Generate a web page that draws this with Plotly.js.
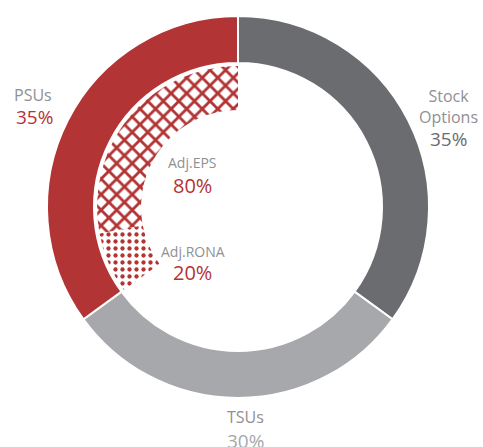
<!DOCTYPE html>
<html>
<head>
<meta charset="utf-8">
<script src="https://cdn.plot.ly/plotly-3.0.1.min.js"></script>
<style>html,body{margin:0;padding:0;background:#fff;}#chart{width:483px;height:447px;}</style>
</head>
<body>
<div id="chart"></div>
<script>
// ---- data ----
const outerLabels = ['Stock Options', 'TSUs', 'PSUs'];
const outerValues = [35, 30, 35];
const psuLabels = ['Adj.EPS', 'Adj.RONA'];
const psuValues = [80, 20];

// ---- style ----
const RED = '#b23434';
const DARK = '#6b6c70';
const LIGHT = '#a7a8ab';
const TEXTGRAY = '#8f9093';
const W = 483, H = 447;
const CX = 238, CY = 207;
const R_OUT = 191, R_IN = 141;

function dom(r) {
  return {
    x: [(CX - r) / W, (CX + r) / W],
    y: [(H - CY - r) / H, (H - CY + r) / H]
  };
}

// inner ring spans only the PSU sector: clockwise from 12 o'clock -> rest, RONA, EPS
const psuShare = outerValues[2];
const innerLabels = ['rest'].concat(psuLabels.slice().reverse());
const innerValues = [100 - psuShare].concat(psuValues.slice().reverse().map(v => v * psuShare / 100));

const outer = {
  type: 'pie',
  labels: outerLabels,
  values: outerValues,
  sort: false,
  direction: 'clockwise',
  rotation: 0,
  hole: 144 / 191,
  domain: dom(R_OUT),
  marker: {colors: [DARK, LIGHT, RED], line: {color: '#ffffff', width: 2}},
  textinfo: 'none',
  hoverinfo: 'none',
  showlegend: false
};

const inner = {
  type: 'pie',
  labels: innerLabels,
  values: innerValues,
  sort: false,
  direction: 'clockwise',
  rotation: 0,
  hole: 97 / 141,
  domain: dom(R_IN),
  marker: {
    colors: ['rgba(0,0,0,0)', RED, RED],
    line: {width: 0},
    pattern: {shape: ['', '.', 'x'], fillmode: 'replace', size: [8, 7, 11], solidity: [0.3, 0.3, 0.45]}
  },
  textinfo: 'none',
  hoverinfo: 'none',
  showlegend: false
};

const FONT = 'Open Sans, Noto Sans, sans-serif';
function ann(px, py, text, size, color) {
  return {
    xref: 'paper', yref: 'paper', x: px / W, y: 1 - py / H,
    xanchor: 'center', yanchor: 'middle', showarrow: false,
    text: text, font: {family: FONT, size: size, color: color}
  };
}

const annotations = [
  ann(33, 95, outerLabels[2], 16, TEXTGRAY),
  ann(34, 117, outerValues[2] + '%', 19, RED),
  ann(448, 106, outerLabels[0].replace(' ', '<br>'), 16, TEXTGRAY),
  ann(448, 139, outerValues[0] + '%', 19, DARK),
  ann(245, 417, outerLabels[1], 16, TEXTGRAY),
  ann(245, 441, outerValues[1] + '%', 19, LIGHT),
  ann(192, 163, psuLabels[0], 14, TEXTGRAY),
  ann(192, 185, psuValues[0] + '%', 20, RED),
  ann(193, 251, psuLabels[1], 14, TEXTGRAY),
  ann(192, 272, psuValues[1] + '%', 20, RED)
];

const layout = {
  width: W, height: H,
  margin: {l: 0, r: 0, t: 0, b: 0},
  paper_bgcolor: '#ffffff',
  plot_bgcolor: '#ffffff',
  showlegend: false,
  annotations: annotations
};

Plotly.newPlot('chart', [outer, inner], layout, {displayModeBar: false, staticPlot: true});
</script>
</body>
</html>
